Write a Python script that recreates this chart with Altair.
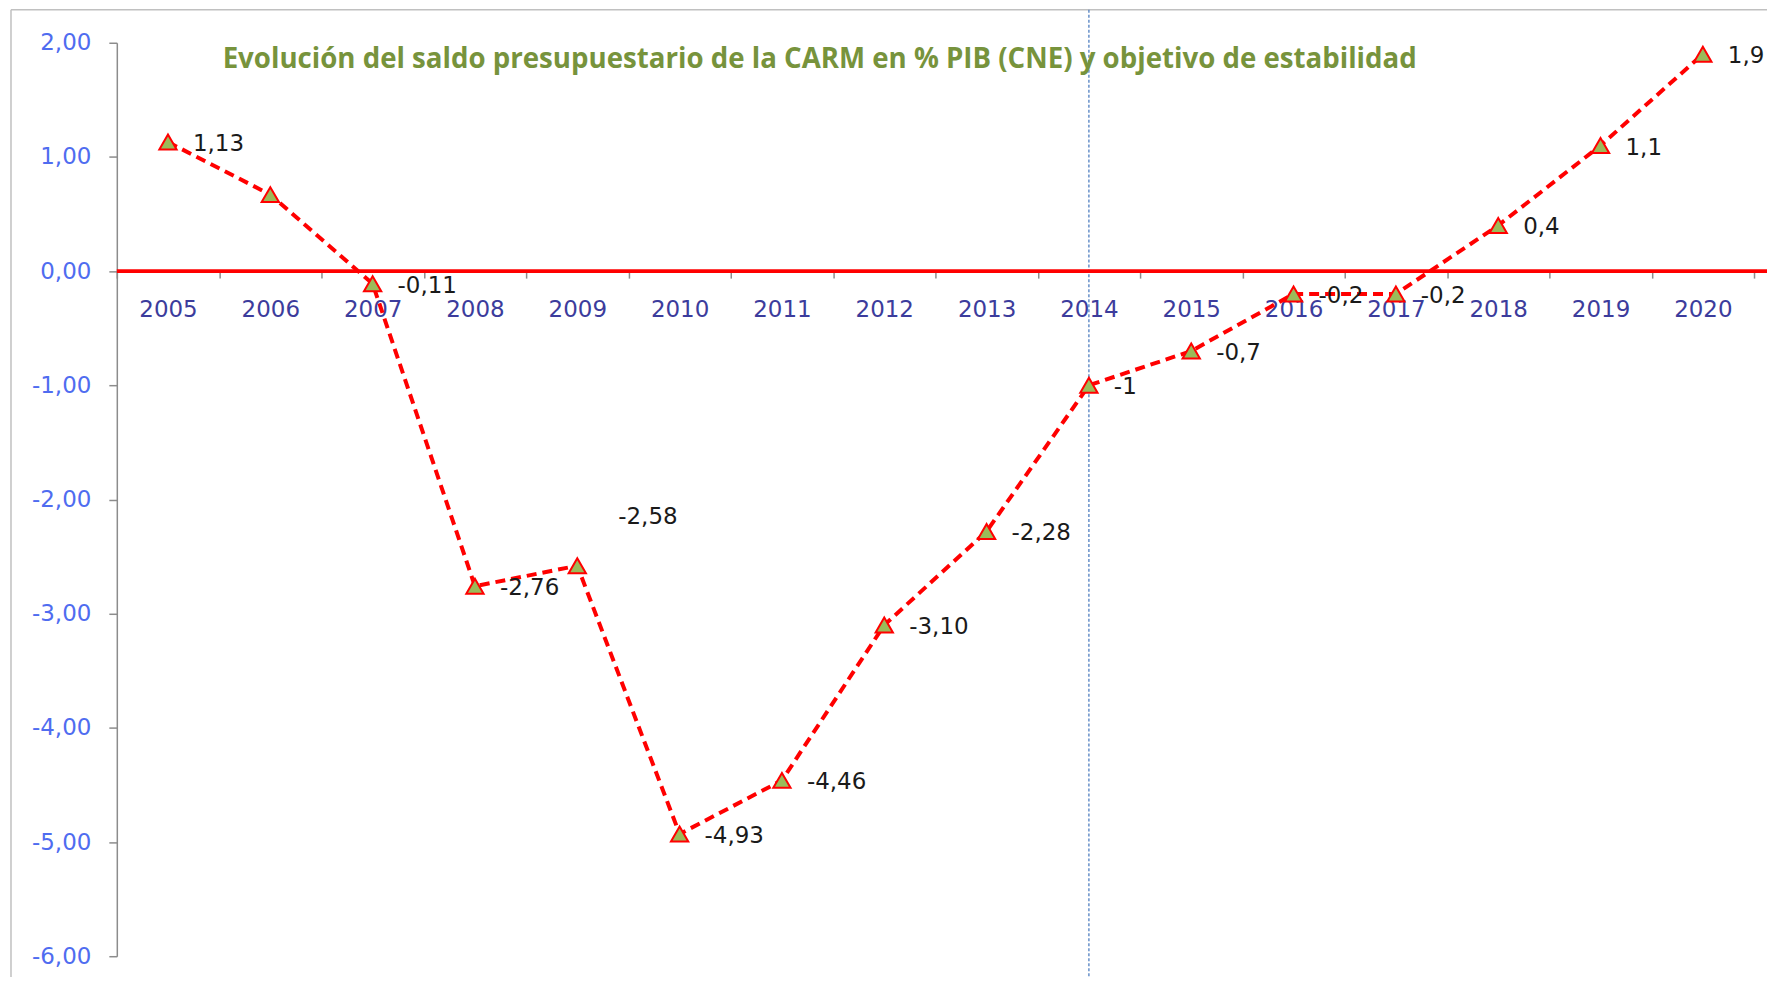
import altair as alt
import pandas as pd

years = ["2005", "2006", "2007", "2008", "2009", "2010", "2011", "2012",
         "2013", "2014", "2015", "2016", "2017", "2018", "2019", "2020"]
saldo = [1.13, 0.67, -0.11, -2.76, -2.58, -4.93, -4.46, -3.10,
         -2.28, -1.0, -0.7, -0.2, -0.2, 0.4, 1.1, 1.9]
etiquetas = ["1,13", "", "-0,11", "-2,76", "-2,58", "-4,93", "-4,46", "-3,10",
             "-2,28", "-1", "-0,7", "-0,2", "-0,2", "0,4", "1,1", "1,9"]
titulo = "Evolución del saldo presupuestario de la CARM en % PIB (CNE) y objetivo de estabilidad"
objetivo = 0.0
anio_marca = "2014"
label_aparte = "2009"

df = pd.DataFrame({"year": years, "saldo": saldo, "label": etiquetas})
df_main_labels = df[(df["label"] != "") & (df["year"] != label_aparte)]
df_sep_label = df[df["year"] == label_aparte]

W = 1640
H = 915

xscale = alt.Scale(domain=years, paddingInner=0, paddingOuter=0)
yscale = alt.Scale(domain=[-6, 2], nice=False, zero=False)

x_enc = alt.X("year:N", scale=xscale, sort=years,
              axis=alt.Axis(title=None, labelAngle=0, labelAlign="center", domain=False,
                            tickBand="extent", tickColor="#8c8c8c", tickWidth=1.5,
                            tickSize=7, labelPadding=31, labelFont="DejaVu Sans",
                            labelFontSize=23, labelColor="#3c3c9c",
                            offset=-(H * 6 / 8), grid=False))
y_enc = alt.Y("saldo:Q", scale=yscale,
              axis=alt.Axis(title=None, values=list(range(-6, 3)),
                            labelExpr="replace(replace(format(datum.value, '.2f'), '.', ','), '\u2212', '-')",
                            labelFont="DejaVu Sans", labelFontSize=23,
                            labelColor="#4f6cf0", labelPadding=18,
                            domainColor="#8c8c8c", domainWidth=1.5,
                            tickColor="#8c8c8c", tickWidth=1.5, tickSize=8,
                            grid=False))

base = alt.Chart(df)

border = alt.Chart(pd.DataFrame({"k": [0]})).mark_rule(
    color="#c0c0c0", strokeWidth=1.5
).encode(x=alt.value(-106), y=alt.value(-33), y2=alt.value(960))
border_top = alt.Chart(pd.DataFrame({"k": [0]})).mark_rule(
    color="#c0c0c0", strokeWidth=1.5
).encode(x=alt.value(-106), x2=alt.value(1670), y=alt.value(-33))

title_txt = alt.Chart(pd.DataFrame({"t": [titulo]})).mark_text(
    align="left", baseline="middle", font="Open Sans", fontWeight="bold",
    fontSize=27.7, color="#77933c"
).encode(x=alt.value(106), y=alt.value(17), text="t:N")

vline = alt.Chart(pd.DataFrame({"year": [anio_marca]})).mark_rule(
    color="#4f7fc0", strokeWidth=1.3, strokeDash=[3, 2]
).encode(x=alt.X("year:N", scale=xscale, sort=years), y=alt.value(-33), y2=alt.value(960))

zero_line = alt.Chart(pd.DataFrame({"v": [objetivo]})).mark_rule(
    color="#ff0000", strokeWidth=4
).encode(y=alt.Y("v:Q", scale=yscale), x=alt.value(0), x2=alt.value(1660))

line = base.mark_line(color="#ff0000", strokeWidth=4, strokeDash=[10, 6]).encode(
    x=x_enc, y=y_enc)

points = base.mark_point(shape="triangle-up", filled=True, fill="#9bbb59",
                         stroke="#ff0000", strokeWidth=2, size=300, opacity=1).encode(
    x=alt.X("year:N", scale=xscale, sort=years),
    y=alt.Y("saldo:Q", scale=yscale))

labels = alt.Chart(df_main_labels).mark_text(
    align="left", baseline="middle", dx=25, dy=2, font="DejaVu Sans",
    fontSize=23, color="#1a1a1a"
).encode(x=alt.X("year:N", scale=xscale, sort=years),
         y=alt.Y("saldo:Q", scale=yscale), text="label:N")

label_sep = alt.Chart(df_sep_label).mark_text(
    align="left", baseline="middle", dx=41, dy=-49, font="DejaVu Sans",
    fontSize=23, color="#1a1a1a"
).encode(x=alt.X("year:N", scale=xscale, sort=years),
         y=alt.Y("saldo:Q", scale=yscale), text="label:N")

chart = alt.layer(
    border, border_top, vline, line, zero_line, points, labels, label_sep, title_txt
).properties(
    width=W, height=H,
    autosize=alt.AutoSizeParams(type="none"),
    padding={"left": 109, "top": 34, "right": 13, "bottom": 20},
    background="white",
).configure_view(stroke=None)

chart.save("out.html", embed_options={"renderer": "svg", "actions": False})
